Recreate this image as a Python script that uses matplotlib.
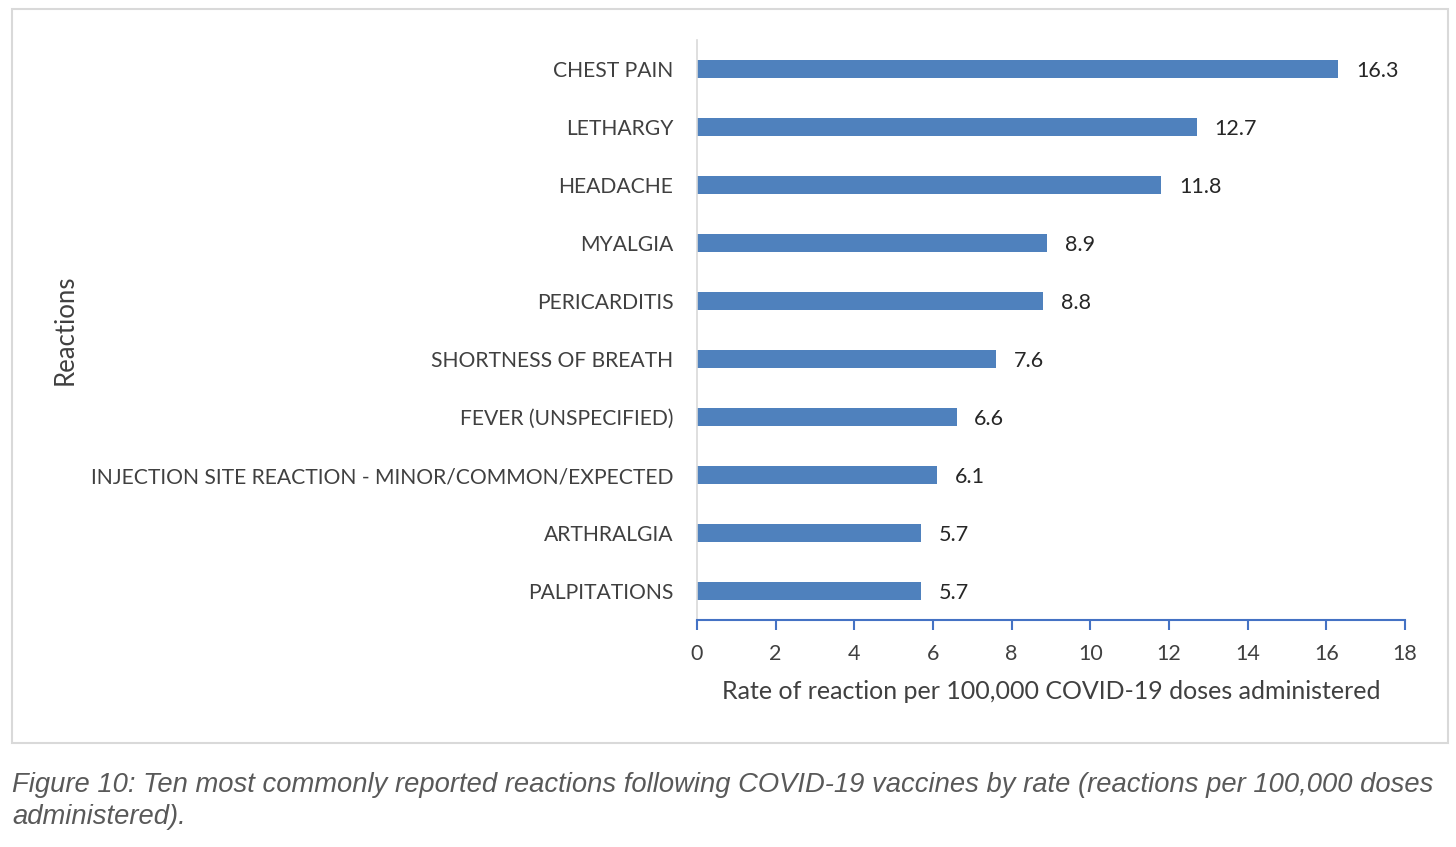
import matplotlib.pyplot as plt
from matplotlib.patches import Rectangle

reactions = ["CHEST PAIN", "LETHARGY", "HEADACHE", "MYALGIA", "PERICARDITIS",
             "SHORTNESS OF BREATH", "FEVER (UNSPECIFIED)",
             "INJECTION SITE REACTION - MINOR/COMMON/EXPECTED",
             "ARTHRALGIA", "PALPITATIONS"]
rates = [16.3, 12.7, 11.8, 8.9, 8.8, 7.6, 6.6, 6.1, 5.7, 5.7]
xticks = [0, 2, 4, 6, 8, 10, 12, 14, 16, 18]

font = "Lato"
txt = "#404040"

fig = plt.figure(figsize=(14.56, 8.47), dpi=100)
fig.patches.append(Rectangle((12 / 1456, 1 - 743 / 847), 1436 / 1456, 734 / 847,
                             transform=fig.transFigure, fill=False,
                             edgecolor="#d9d9d9", linewidth=1.5))

ax = fig.add_axes([697 / 1456, 1 - 620 / 847, 708 / 1456, 580 / 847])
pos = list(range(len(reactions)))
ax.barh(pos, rates, height=0.31, color="#4f81bd")
ax.set_ylim(len(reactions) - 0.5, -0.5)
ax.set_xlim(0, 18)
ax.set_xticks(xticks)
ax.set_yticks(pos)
ax.set_yticklabels(reactions, fontsize=15.2, color=txt, family=font)
ax.set_xticklabels([str(t) for t in xticks], fontsize=15.5, color=txt, family=font)
ax.tick_params(axis="y", length=0, pad=17)
ax.tick_params(axis="x", length=7, width=1.5, color="#4472c4", direction="out", pad=10)

for s in ["top", "right"]:
    ax.spines[s].set_visible(False)
ax.spines["left"].set_color("#d9d9d9")
ax.spines["left"].set_linewidth(1.2)
ax.spines["bottom"].set_color("#4472c4")
ax.spines["bottom"].set_linewidth(1.5)

for p, v in zip(pos, rates):
    ax.text(v + 0.45, p + 0.03, str(v), va="center", ha="left", fontsize=15.5,
            color="#262626", family=font)

ax.set_xlabel("Rate of reaction per 100,000 COVID-19 doses administered",
              fontsize=18, color=txt, family=font, labelpad=12)
fig.text(65 / 1456, 1 - 330 / 847, "Reactions", rotation=90, ha="center", va="center",
         fontsize=18.5, color=txt, family=font)

caption = ["Figure 10: Ten most commonly reported reactions following COVID-19 vaccines by rate (reactions per 100,000 doses",
           "administered)."]
for i, line in enumerate(caption):
    fig.text(12 / 1456, 1 - (785 + 32 * i) / 847, line,
             ha="left", va="center", fontsize=19.7, style="italic", color="#595959",
             family="Liberation Sans")

fig.savefig("out.png", dpi=100)
